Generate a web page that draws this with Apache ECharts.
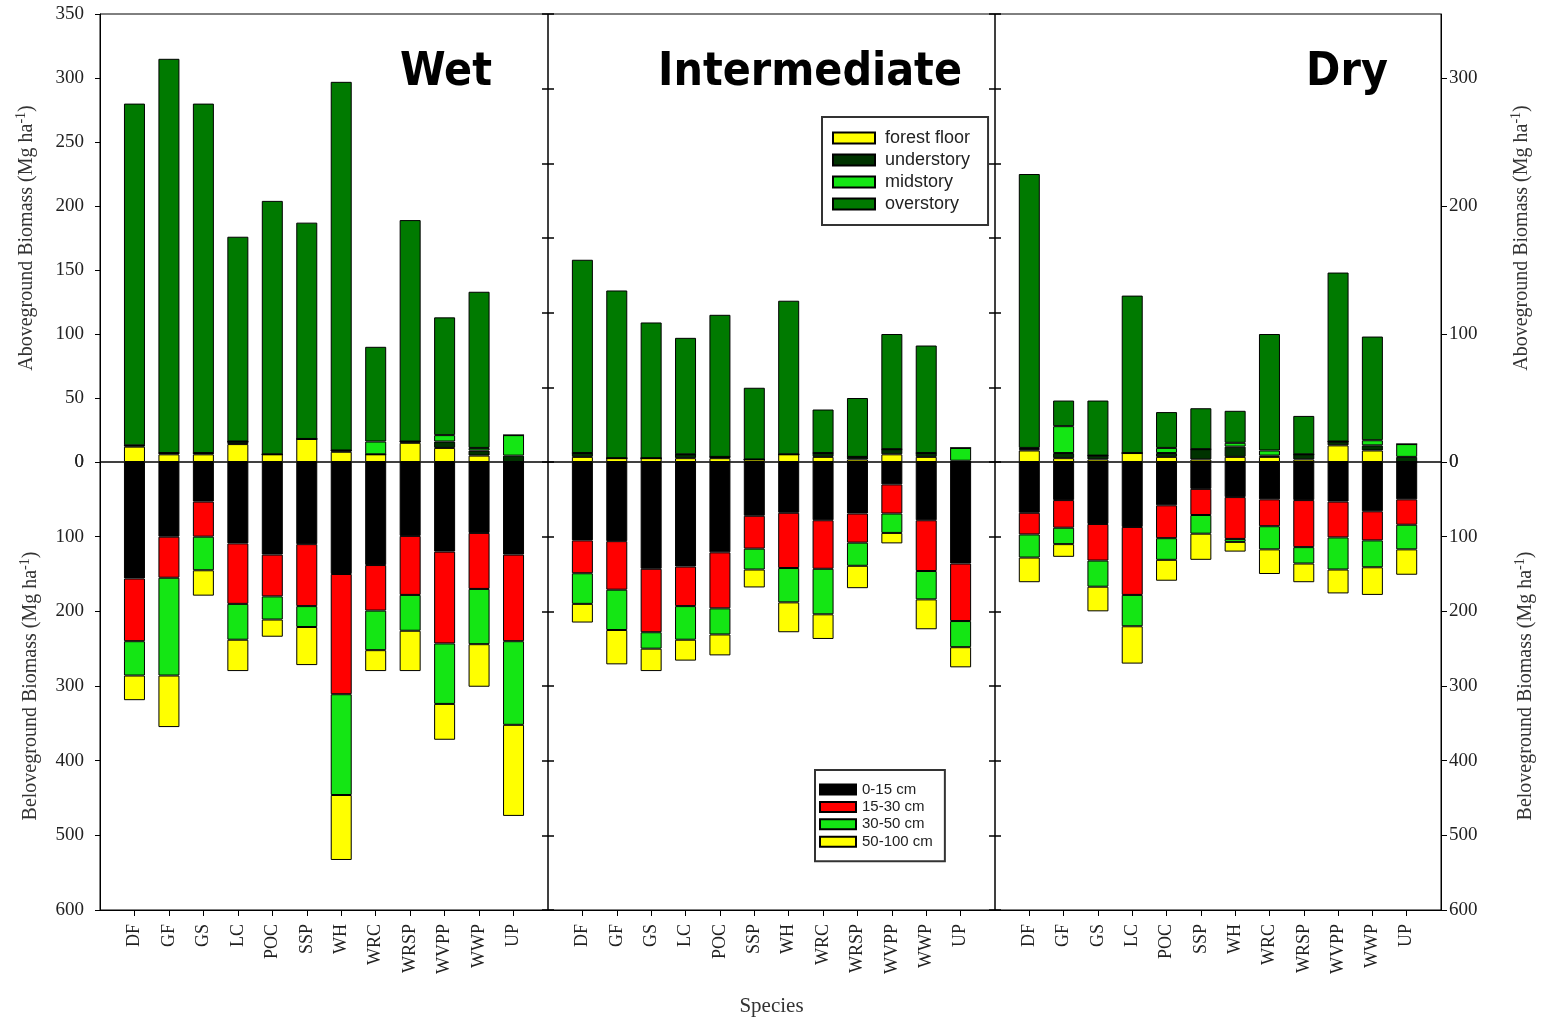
<!DOCTYPE html>
<html><head><meta charset="utf-8">
<script src="https://cdn.jsdelivr.net/npm/echarts@6.0.0/dist/echarts.min.js"></script>
<style>html,body{margin:0;padding:0;background:#fff}#c{width:1547px;height:1022px}</style>
</head><body><div id="c"></div>
<script>
const species = ['DF','GF','GS','LC','POC','SSP','WH','WRC','WRSP','WVPP','WWP','UP'];
const panelTitles = ['Wet','Intermediate','Dry'];
const aboveNames = ['forest floor','understory','midstory','overstory'];
const belowNames = ['0-15 cm','15-30 cm','30-50 cm','50-100 cm'];
const rightAboveTicks = [0,100,200,300];

// Wet - aboveground (Mg/ha)
const wet_ff = [12, 6, 6, 14, 6, 18, 8, 6, 15, 11, 5, 0];
const wet_us = [1, 1, 1, 2, 0, 0, 1, 0, 1, 5, 4, 5];
const wet_ms = [0, 0, 0, 0, 0, 0, 0, 10, 0, 5, 2, 16];
const wet_os = [267, 308, 273, 160, 198, 169, 288, 74, 173, 92, 122, 0];
// Wet - belowground
const wet_d1 = [156, 100, 53, 109, 124, 110, 150, 138, 99, 120, 95, 124];
const wet_d2 = [84, 55, 47, 81, 56, 83, 161, 61, 79, 123, 75, 116];
const wet_d3 = [46, 131, 45, 48, 31, 28, 135, 53, 48, 81, 74, 112];
const wet_d4 = [33, 69, 34, 42, 23, 51, 87, 28, 54, 48, 57, 122];

// Intermediate - aboveground
const int_ff = [4, 3, 3, 3, 3, 2, 6, 4, 2, 6, 4, 0];
const int_us = [3, 0, 0, 3, 1, 0, 0, 3, 2, 4, 3, 1];
const int_ms = [0, 0, 0, 0, 0, 0, 0, 0, 0, 0, 0, 10];
const int_os = [151, 131, 106, 91, 111, 56, 120, 34, 46, 90, 84, 0];
// Intermediate - belowground
const int_d1 = [105, 106, 143, 140, 121, 72, 68, 78, 69, 30, 78, 136];
const int_d2 = [44, 65, 85, 53, 75, 44, 74, 65, 39, 39, 68, 77];
const int_d3 = [41, 54, 22, 45, 35, 28, 46, 61, 31, 26, 38, 35];
const int_d4 = [25, 46, 30, 28, 28, 24, 40, 33, 30, 14, 40, 27];

// Dry - aboveground
const dry_ff = [9, 3, 2, 7, 4, 2, 4, 4, 2, 13, 9, 0];
const dry_us = [1, 4, 3, 0, 3, 8, 8, 1, 4, 3, 4, 4];
const dry_ms = [1, 21, 0, 0, 4, 0, 3, 4, 0, 0, 4, 10];
const dry_os = [214, 20, 43, 123, 28, 32, 25, 91, 30, 132, 81, 0];
// Dry - belowground
const dry_d1 = [68, 51, 83, 87, 58, 36, 47, 50, 51, 53, 66, 50];
const dry_d2 = [29, 37, 49, 91, 44, 35, 56, 36, 63, 48, 39, 34];
const dry_d3 = [31, 22, 35, 42, 29, 25, 4, 31, 22, 43, 36, 33];
const dry_d4 = [33, 17, 33, 50, 28, 35, 13, 33, 25, 32, 37, 34];

const aboveSets = [[wet_ff, wet_us, wet_ms, wet_os],[int_ff, int_us, int_ms, int_os],[dry_ff, dry_us, dry_ms, dry_os]];
const belowSets = [[wet_d1, wet_d2, wet_d3, wet_d4],[int_d1, int_d2, int_d3, int_d4],[dry_d1, dry_d2, dry_d3, dry_d4]];
const aboveColors = ['#ffff00','#003300','#14e614','#007a00'];
const belowColors = ['#000000','#ff0000','#14e614','#ffff00'];

const serif = "'Liberation Serif','Times New Roman',serif";
const sans = "'Liberation Sans',Arial,sans-serif";
const panelX = [{left:100,width:448},{left:548,width:447},{left:995,width:446}];
const TOP = 14, H = 448;
// padded category list: one empty slot at each end so species sit at 1..12 of 0..13
const cats = [''].concat(species, ['']);
const pad = arr => [null].concat(arr, [null]);
const inner = idx => idx > 0 && idx < cats.length - 1;

const grid = [], xAxis = [], yAxis = [], series = [];
panelX.forEach(p => {
  grid.push({left:p.left, width:p.width, top:TOP, height:H, show:true, borderColor:'#000', borderWidth:1, backgroundColor:'transparent'});
  grid.push({left:p.left, width:p.width, top:TOP+H, height:H, show:true, borderColor:'#000', borderWidth:1, backgroundColor:'transparent'});
});
grid.push({left:542, width:12, top:TOP, height:2*H, show:false});
grid.push({left:989, width:12, top:TOP, height:2*H, show:false});

for (let p = 0; p < 3; p++) {
  xAxis.push({gridIndex:2*p, type:'category', data:cats, boundaryGap:false, show:false, axisLine:{onZero:false}, splitLine:{show:false}});
  const bx = {gridIndex:2*p+1, type:'category', data:cats, boundaryGap:false, position:'bottom',
    axisLine:{show:true, onZero:false, lineStyle:{color:'#000', width:1}},
    axisTick:{show:true, interval:inner, length:6, lineStyle:{color:'#000'}},
    axisLabel:{show:true, interval:inner, rotate:90, margin:14, fontFamily:serif, fontSize:18, color:'#222'},
    splitLine:{show:false}};
  if (p === 1) {
    bx.name = 'Species'; bx.nameLocation = 'middle'; bx.nameGap = 86;
    bx.nameTextStyle = {fontFamily:serif, fontSize:21, color:'#333'};
  }
  xAxis.push(bx);
}
xAxis.push({gridIndex:6, type:'value', min:0, max:1, show:false});
xAxis.push({gridIndex:7, type:'value', min:0, max:1, show:false});

const nameRich = {s:{fontFamily:serif, fontSize:14, color:'#333', padding:[0,0,12,0]}};
const nameStyle = {fontFamily:serif, fontSize:20, color:'#333', rich:nameRich};
const lblStyle = {fontFamily:serif, fontSize:19, color:'#222'};
yAxis.push({gridIndex:0, type:'value', min:0, max:350, interval:50, position:'left',
  axisLine:{show:true, onZero:false, lineStyle:{color:'#000'}}, axisTick:{show:true, length:5, lineStyle:{color:'#000'}},
  axisLabel:Object.assign({margin:16}, lblStyle), splitLine:{show:false},
  name:'Aboveground Biomass (Mg ha{s|-1})', nameLocation:'middle', nameRotate:90, nameGap:60, nameTextStyle:nameStyle});
yAxis.push({gridIndex:1, type:'value', min:0, max:600, interval:100, inverse:true, position:'left',
  axisLine:{show:true, onZero:false, lineStyle:{color:'#000'}}, axisTick:{show:true, length:5, lineStyle:{color:'#000'}},
  axisLabel:Object.assign({margin:16}, lblStyle), splitLine:{show:false},
  name:'Beloveground Biomass (Mg ha{s|-1})', nameLocation:'middle', nameRotate:90, nameGap:56, nameTextStyle:nameStyle});
yAxis.push({gridIndex:2, type:'value', min:0, max:350, show:false, axisLine:{onZero:false}, splitLine:{show:false}});
yAxis.push({gridIndex:3, type:'value', min:0, max:600, inverse:true, show:false, axisLine:{onZero:false}, splitLine:{show:false}});
yAxis.push({gridIndex:4, type:'value', min:0, max:350, position:'right',
  axisLine:{show:true, onZero:false, lineStyle:{color:'#000'}},
  axisTick:{show:true, length:6, customValues:rightAboveTicks, lineStyle:{color:'#000'}},
  axisLabel:Object.assign({margin:8, customValues:rightAboveTicks}, lblStyle), splitLine:{show:false},
  name:'Aboveground Biomass (Mg ha{s|-1})', nameLocation:'middle', nameRotate:90, nameGap:68, nameTextStyle:nameStyle});
yAxis.push({gridIndex:5, type:'value', min:0, max:600, interval:100, inverse:true, position:'right',
  axisLine:{show:true, onZero:false, lineStyle:{color:'#000'}}, axisTick:{show:true, length:6, lineStyle:{color:'#000'}},
  axisLabel:Object.assign({margin:8}, lblStyle), splitLine:{show:false},
  name:'Beloveground Biomass (Mg ha{s|-1})', nameLocation:'middle', nameRotate:90, nameGap:72, nameTextStyle:nameStyle});
[6,7].forEach(g => {
  ['left','right'].forEach(pos => {
    yAxis.push({gridIndex:g, type:'value', min:-600, max:600, interval:100, position:pos,
      axisLine:{show:false, onZero:false}, axisTick:{show:true, inside:true, length:6, lineStyle:{color:'#000', width:1.5}},
      axisLabel:{show:false}, splitLine:{show:false}});
  });
});

const topY = [0,2,4], botY = [1,3,5];
for (let p = 0; p < 3; p++) {
  aboveSets[p].forEach((arr, k) => {
    series.push({type:'bar', name:aboveNames[k], xAxisIndex:2*p, yAxisIndex:topY[p], stack:'above'+p, barWidth:21,
      data: pad(arr), itemStyle:{color:aboveColors[k], borderColor:'#000', borderWidth:1}});
  });
  belowSets[p].forEach((arr, k) => {
    series.push({type:'bar', name:belowNames[k], xAxisIndex:2*p+1, yAxisIndex:botY[p], stack:'below'+p, barWidth:21,
      data: pad(arr), itemStyle:{color:belowColors[k], borderColor:'#000', borderWidth:1}});
  });
}

const titleCenters = [446, 810, 1347];
const graphic = panelTitles.map((t, i) => ({type:'text', x:titleCenters[i], y:73,
  style:{text:t, fill:'#000', font:"bold 46px 'DejaVu Sans Condensed','DejaVu Sans',sans-serif", textAlign:'center', textVerticalAlign:'middle'}}));

const option = {
  animation:false,
  backgroundColor:'#fff',
  grid, xAxis, yAxis, series, graphic,
  legend:[
    {data:aboveNames, orient:'vertical', left:822, top:117, itemWidth:42, itemHeight:11, itemGap:4, icon:'rect',
     padding:[12,18,12,10], borderColor:'#333', borderWidth:2, backgroundColor:'#fff', selectedMode:false,
     textStyle:{fontFamily:sans, fontSize:18, color:'#222', lineHeight:18, padding:[0,0,0,5]}},
    {data:belowNames, orient:'vertical', left:815, top:770, itemWidth:36, itemHeight:10, itemGap:2.4, icon:'rect',
     padding:[12,12,12,4], borderColor:'#333', borderWidth:2, backgroundColor:'#fff', selectedMode:false,
     textStyle:{fontFamily:sans, fontSize:15, color:'#222', lineHeight:15, padding:[0,0,0,1]}}
  ]
};
const chart = echarts.init(document.getElementById('c'), null, {renderer:'canvas'});
chart.setOption(option);
</script></body></html>
